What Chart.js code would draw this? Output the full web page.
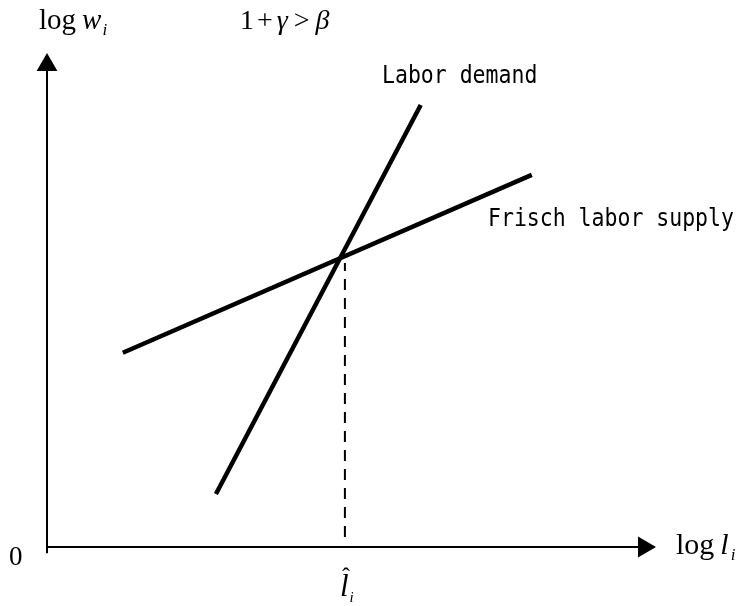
<!DOCTYPE html>
<html>
<head>
<meta charset="utf-8">
<script src="https://cdn.jsdelivr.net/npm/chart.js@4.4.1/dist/chart.umd.min.js"></script>
<style>
  html, body { margin: 0; padding: 0; background: #fff; }
</style>
</head>
<body>
<canvas id="chart1" width="744" height="606"></canvas>
<script>
// curves, in arbitrary log units (0..100 on both axes)
const demandX = [28.3, 62.6]
const demandY = [11.0, 91.7]
const supplyX = [12.7, 81.2]
const supplyY = [40.3, 77.2]
// dashed drop line to l-hat
const dropX = [49.9, 49.9]
const dropY = [2.1, 58.9]
// axes
const axisMax = 100

const toPts = (xs, ys) => xs.map((x, i) => ({ x: x, y: ys[i] }))

const serif = '"Liberation Serif", "Times New Roman", serif'
const mono = '"DejaVu Sans Mono", monospace'

// draws a run of text pieces (regular / italic / subscript)
function mathText(ctx, parts, x, y) {
    parts.forEach(p => {
        ctx.font = p.f
        ctx.fillText(p.t, x, y + (p.dy || 0))
        x += ctx.measureText(p.t).width + (p.gap || 0)
    })
}

// narrow, tall monospace like the original gothic font
function monoText(ctx, t, x, y) {
    ctx.save()
    ctx.translate(x, y)
    ctx.scale(0.86, 1)
    ctx.font = '25px ' + mono
    ctx.fillText(t, 0, 0)
    ctx.restore()
}

const labels = {
    id: 'labels',
    afterDraw(chart) {
        const ctx = chart.ctx
        const sx = chart.scales.x
        ctx.save()
        ctx.fillStyle = '#000'
        ctx.textBaseline = 'alphabetic'

        mathText(ctx, [
            { t: 'log', f: '29px ' + serif, gap: 6 },
            { t: 'w', f: 'italic 29px ' + serif, gap: 1 },
            { t: 'i', f: 'italic 17px ' + serif, dy: 6 }
        ], 39, 29)

        mathText(ctx, [
            { t: '1', f: '28px ' + serif, gap: 3 },
            { t: '+', f: '28px ' + serif, gap: 4 },
            { t: 'γ', f: 'italic 28px ' + serif, gap: 6 },
            { t: '>', f: '28px ' + serif, gap: 6 },
            { t: 'β', f: 'italic 28px ' + serif }
        ], 240, 29)

        monoText(ctx, 'Labor demand', 382, 83)
        monoText(ctx, 'Frisch labor supply', 488, 226)

        ctx.font = '27px ' + serif
        ctx.fillText('0', 9, 565)

        mathText(ctx, [
            { t: 'log', f: '30px ' + serif, gap: 6 },
            { t: 'l', f: 'italic 30px ' + serif, gap: 2 },
            { t: 'i', f: 'italic 17px ' + serif, dy: 6 }
        ], 676, 554)

        const hx = sx.getPixelForValue(dropX[0]) - 5
        mathText(ctx, [
            { t: 'l', f: 'italic 31px ' + serif, gap: 1 },
            { t: 'i', f: 'italic 15px ' + serif, dy: 6 }
        ], hx, 596)
        ctx.font = '24px ' + serif
        ctx.fillText('ˆ', hx + 2, 584)

        ctx.restore()
    }
}

new Chart(document.getElementById('chart1'), {
    type: 'scatter',
    data: {
        datasets: [
            {
                data: [{ x: 0, y: 0 }, { x: axisMax, y: 0 }],
                showLine: true,
                borderColor: '#000',
                borderWidth: 2,
                pointRadius: [0, 12],
                pointStyle: 'triangle',
                rotation: 90,
                pointBackgroundColor: '#000',
                pointBorderWidth: 0,
                clip: false
            },
            {
                data: [{ x: 0, y: -1.3 }, { x: 0, y: axisMax }],
                showLine: true,
                borderColor: '#000',
                borderWidth: 2,
                pointRadius: [0, 12],
                pointStyle: 'triangle',
                rotation: 0,
                pointBackgroundColor: '#000',
                pointBorderWidth: 0,
                clip: false
            },
            {
                data: toPts(demandX, demandY),
                showLine: true,
                borderColor: '#000',
                borderWidth: 4.5,
                pointRadius: 0
            },
            {
                data: toPts(supplyX, supplyY),
                showLine: true,
                borderColor: '#000',
                borderWidth: 4.5,
                pointRadius: 0
            },
            {
                data: toPts(dropX, dropY),
                showLine: true,
                borderColor: '#000',
                borderWidth: 2,
                borderDash: [11, 8],
                pointRadius: 0
            }
        ]
    },
    options: {
        responsive: false,
        devicePixelRatio: 1,
        animation: false,
        layout: {
            padding: { left: 47, right: 100, top: 65, bottom: 59 }
        },
        scales: {
            x: { type: 'linear', min: 0, max: axisMax, display: false },
            y: { type: 'linear', min: 0, max: axisMax, display: false }
        },
        plugins: {
            legend: { display: false },
            tooltip: { enabled: false }
        }
    },
    plugins: [labels]
})
</script>
</body>
</html>
